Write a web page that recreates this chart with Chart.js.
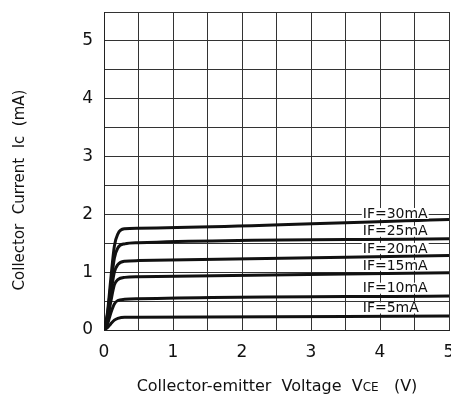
<!DOCTYPE html>
<html>
<head>
<meta charset="utf-8">
<script src="https://cdn.jsdelivr.net/npm/chart.js@4"></script>
<style>
  html, body { margin: 0; padding: 0; background: #fff; overflow: hidden; }
  #wrap { width: 451px; height: 399px; overflow: hidden; }
</style>
</head>
<body>
<div id="wrap"><canvas id="chart" width="455" height="399"></canvas></div>
<script>
// 読み取った値
const vce = [0, 0.05, 0.1, 0.15, 0.2, 0.3, 0.5, 5];
const ic30 = [0, 0.3, 0.9, 1.45, 1.66, 1.75, 1.76, 1.91];
const ic25 = [0, 0.26, 0.78, 1.24, 1.42, 1.49, 1.51, 1.58];
const ic20 = [0, 0.22, 0.64, 1.0, 1.13, 1.19, 1.2, 1.29];
const ic15 = [0, 0.18, 0.5, 0.78, 0.87, 0.91, 0.92, 0.99];
const ic10 = [0, 0.1, 0.3, 0.45, 0.51, 0.53, 0.54, 0.59];
const ic5 = [0, 0.04, 0.11, 0.17, 0.2, 0.22, 0.22, 0.24];
const seriesLabels = ['IF=30mA', 'IF=25mA', 'IF=20mA', 'IF=15mA', 'IF=10mA', 'IF=5mA'];
const seriesValues = [ic30, ic25, ic20, ic15, ic10, ic5];
const xTicks = [0, 1, 2, 3, 4, 5];
const yTicks = [0, 1, 2, 3, 4, 5];
const labelAtV = 3.75;

const FONT = 'DejaVu Sans';
const INK = '#111';

// 曲線のラベルと軸タイトル
const annotate = {
  id: 'annotate',
  afterDatasetsDraw(chart) {
    const { ctx, scales: { x, y } } = chart;
    ctx.save();
    ctx.font = '14px "' + FONT + '"';
    ctx.textBaseline = 'middle';
    chart.data.datasets.forEach(ds => {
      // 曲線上の y を線形補間で求める
      const pts = ds.data;
      let v = pts[pts.length - 1].y;
      for (let k = 1; k < pts.length; k++) {
        if (pts[k].x >= labelAtV) {
          const a = pts[k - 1], b = pts[k];
          v = a.y + (b.y - a.y) * (labelAtV - a.x) / (b.x - a.x);
          break;
        }
      }
      const px = x.getPixelForValue(labelAtV);
      const py = y.getPixelForValue(v) - 8;
      const w = ctx.measureText(ds.label).width;
      ctx.fillStyle = '#fff';
      ctx.fillRect(px - 1, py - 6, w + 2, 11);
      ctx.fillStyle = INK;
      ctx.fillText(ds.label, px, py);
    });
    ctx.restore();
  },
  afterDraw(chart) {
    const { ctx } = chart;
    ctx.save();
    ctx.fillStyle = INK;
    // y 軸タイトル
    ctx.translate(20, 190);
    ctx.rotate(-Math.PI / 2);
    ctx.font = '15px "' + FONT + '"';
    ctx.textAlign = 'center';
    ctx.textBaseline = 'middle';
    ctx.fillText('Collector  Current  Ic  (mA)', 0, 0);
    ctx.restore();

    // x 軸タイトル（CE は小さく）
    ctx.save();
    ctx.fillStyle = INK;
    ctx.textBaseline = 'alphabetic';
    const parts = [
      ['Collector-emitter  Voltage  V', 16],
      ['CE', 12],
      ['   (V)', 16]
    ];
    let total = 0;
    parts.forEach(p => { ctx.font = p[1] + 'px "' + FONT + '"'; total += ctx.measureText(p[0]).width; });
    let cx = 277 - total / 2;
    parts.forEach(p => {
      ctx.font = p[1] + 'px "' + FONT + '"';
      ctx.fillText(p[0], cx, 391);
      cx += ctx.measureText(p[0]).width;
    });
    ctx.restore();
  }
};

new Chart(document.getElementById('chart'), {
  type: 'line',
  data: {
    datasets: seriesLabels.map((lab, i) => ({
      label: lab,
      data: vce.map((v, k) => ({ x: v, y: seriesValues[i][k] })),
      borderColor: INK,
      borderWidth: 3,
      pointRadius: 0,
      fill: false,
      cubicInterpolationMode: 'monotone'
    }))
  },
  options: {
    responsive: false,
    animation: false,
    layout: { padding: { top: 12, left: 0, right: 6, bottom: 0 } },
    plugins: { legend: { display: false }, tooltip: { enabled: false } },
    scales: {
      x: {
        type: 'linear',
        min: 0,
        max: 5,
        afterFit(s) { s.height = 69; s.paddingLeft = 0; s.paddingRight = 0; },
        grid: { color: '#333', lineWidth: 1, drawTicks: false },
        border: { color: '#222', width: 1 },
        ticks: {
          stepSize: 0.5,
          padding: 12,
          color: INK,
          font: { family: FONT, size: 17 },
          maxRotation: 0,
          autoSkip: false,
          callback: v => xTicks.includes(v) ? String(v) : ''
        }
      },
      y: {
        type: 'linear',
        min: 0,
        max: 5.5,
        afterFit(s) { s.width = 104; s.paddingTop = 0; s.paddingBottom = 0; },
        grid: { color: '#333', lineWidth: 1, drawTicks: false },
        border: { color: '#222', width: 1 },
        ticks: {
          stepSize: 0.5,
          padding: 11,
          color: INK,
          font: { family: FONT, size: 17 },
          autoSkip: false,
          callback: v => yTicks.includes(v) ? String(v) : ''
        }
      }
    }
  },
  plugins: [annotate]
});
</script>
</body>
</html>
